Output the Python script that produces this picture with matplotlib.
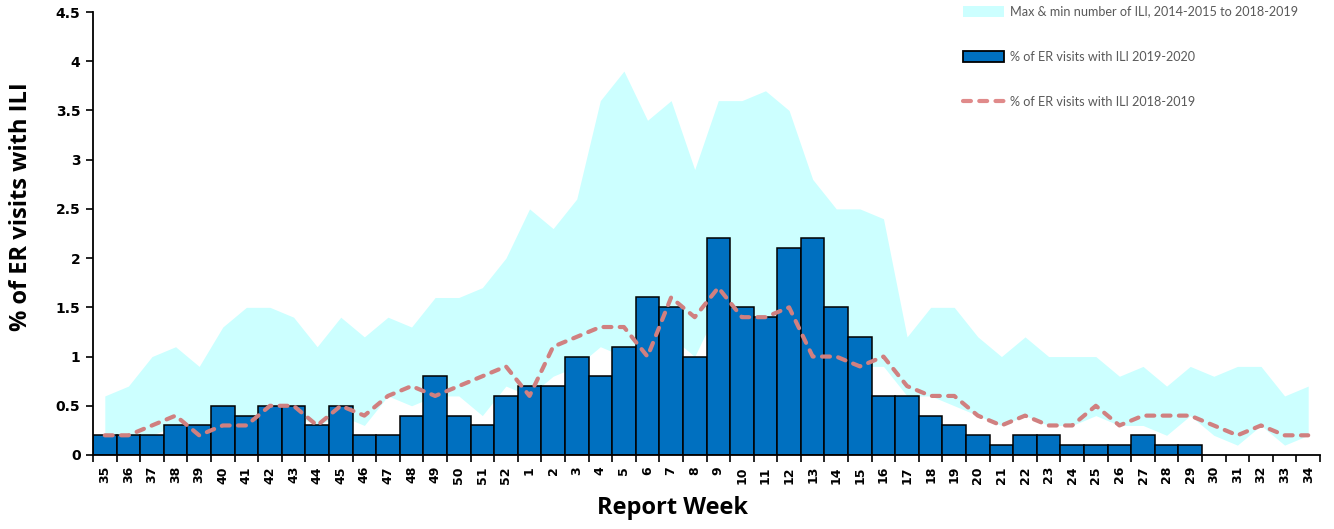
import numpy as np
import matplotlib
matplotlib.use("Agg")
import matplotlib.pyplot as plt
from matplotlib.patches import Patch
from matplotlib.lines import Line2D

weeks = [str(w) for w in list(range(35, 53)) + list(range(1, 35))]

ili_2019_2020 = [0.2, 0.2, 0.2, 0.3, 0.3, 0.5, 0.4, 0.5, 0.5, 0.3, 0.5, 0.2, 0.2, 0.4, 0.8, 0.4, 0.3, 0.6,
                 0.7, 0.7, 1.0, 0.8, 1.1, 1.6, 1.5, 1.0, 2.2, 1.5, 1.4, 2.1, 2.2, 1.5, 1.2, 0.6, 0.6, 0.4,
                 0.3, 0.2, 0.1, 0.2, 0.2, 0.1, 0.1, 0.1, 0.2, 0.1, 0.1,
                 np.nan, np.nan, np.nan, np.nan, np.nan]

ili_2018_2019 = [0.2, 0.2, 0.3, 0.4, 0.2, 0.3, 0.3, 0.5, 0.5, 0.3, 0.5, 0.4, 0.6, 0.7, 0.6, 0.7, 0.8, 0.9,
                 0.6, 1.1, 1.2, 1.3, 1.3, 1.0, 1.6, 1.4, 1.7, 1.4, 1.4, 1.5, 1.0, 1.0, 0.9, 1.0, 0.7, 0.6,
                 0.6, 0.4, 0.3, 0.4, 0.3, 0.3, 0.5, 0.3, 0.4, 0.4, 0.4, 0.3, 0.2, 0.3, 0.2, 0.2]

ili_max = [0.6, 0.7, 1.0, 1.1, 0.9, 1.3, 1.5, 1.5, 1.4, 1.1, 1.4, 1.2, 1.4, 1.3, 1.6, 1.6, 1.7, 2.0,
           2.5, 2.3, 2.6, 3.6, 3.9, 3.4, 3.6, 2.9, 3.6, 3.6, 3.7, 3.5, 2.8, 2.5, 2.5, 2.4, 1.2, 1.5,
           1.5, 1.2, 1.0, 1.2, 1.0, 1.0, 1.0, 0.8, 0.9, 0.7, 0.9, 0.8, 0.9, 0.9, 0.6, 0.7]

ili_min = [0.2, 0.2, 0.2, 0.3, 0.2, 0.3, 0.3, 0.4, 0.4, 0.3, 0.4, 0.3, 0.6, 0.5, 0.6, 0.6, 0.4, 0.7,
           0.6, 0.8, 0.9, 1.1, 1.0, 1.0, 1.2, 1.0, 1.5, 1.3, 1.3, 1.4, 1.0, 1.0, 0.9, 0.9, 0.6, 0.6,
           0.5, 0.4, 0.3, 0.4, 0.3, 0.3, 0.4, 0.3, 0.3, 0.2, 0.4, 0.2, 0.1, 0.3, 0.1, 0.2]

yticks = [0, 0.5, 1, 1.5, 2, 2.5, 3, 3.5, 4, 4.5]
ytick_labels = ["0", "0.5", "1", "1.5", "2", "2.5", "3", "3.5", "4", "4.5"]

fig = plt.figure(figsize=(13.34, 5.29), dpi=100)
ax = fig.add_axes([93 / 1334, 1 - 455 / 529, (1320 - 93) / 1334, (455 - 12) / 529])

x = np.arange(len(weeks))
ax.fill_between(x, ili_min, ili_max, color="#CCFFFF", linewidth=0, zorder=1)
ax.bar(x, ili_2019_2020, width=1.0, color="#0070C0", edgecolor="black", linewidth=1.1, zorder=2)
ax.plot(x, ili_2018_2019, color="#D08080", linewidth=3, dashes=(1.9, 2.0), zorder=3,
        solid_capstyle="round", dash_capstyle="round")

ax.set_xlim(-0.5, len(weeks) - 0.5)
ax.set_ylim(0, 4.5)
for s in ["top", "right"]:
    ax.spines[s].set_visible(False)
for s in ["left", "bottom"]:
    ax.spines[s].set_linewidth(1.3)

ax.set_yticks(yticks)
ax.set_yticklabels(ytick_labels, fontsize=10, fontweight="bold", family="DejaVu Sans")
ax.tick_params(axis="y", direction="out", length=5, width=1.2, pad=4)

ax.set_xticks(np.arange(-0.5, len(weeks), 1.0))
ax.set_xticklabels([])
ax.tick_params(axis="x", which="major", direction="out", length=5, width=1.2)
ax.set_xticks(x, minor=True)
ax.set_xticklabels(weeks, minor=True, rotation=90, fontsize=9, fontweight="bold", family="DejaVu Sans")
ax.tick_params(axis="x", which="minor", length=0, pad=8)

ax.set_ylabel("% of ER visits with ILI", fontsize=17, fontweight="bold", family="Open Sans")
ax.yaxis.set_label_coords(-0.049, 0.56)
ax.set_xlabel("Report Week", fontsize=17, fontweight="bold", family="Open Sans")
ax.xaxis.set_label_coords(0.472, -0.093)

handles = [
    Patch(facecolor="#CCFFFF", edgecolor="none"),
    Patch(facecolor="#0070C0", edgecolor="black", linewidth=1.3),
    Line2D([0], [0], color="#E08A8A", linewidth=3, dashes=(1.9, 2.0), dash_capstyle="round"),
]
labels = ["Max & min number of ILI, 2014-2015 to 2018-2019",
          "% of ER visits with ILI 2019-2020",
          "% of ER visits with ILI 2018-2019"]
leg = fig.legend(handles, labels, loc="upper left", bbox_to_anchor=(952 / 1334, 1.011),
                 frameon=False, labelspacing=2.62, handlelength=3.25,
                 handleheight=0.95, handletextpad=0.4, prop={"family": "Lato", "size": 9.1})
for t in leg.get_texts():
    t.set_color("#595959")

fig.savefig("out.png", dpi=100)
